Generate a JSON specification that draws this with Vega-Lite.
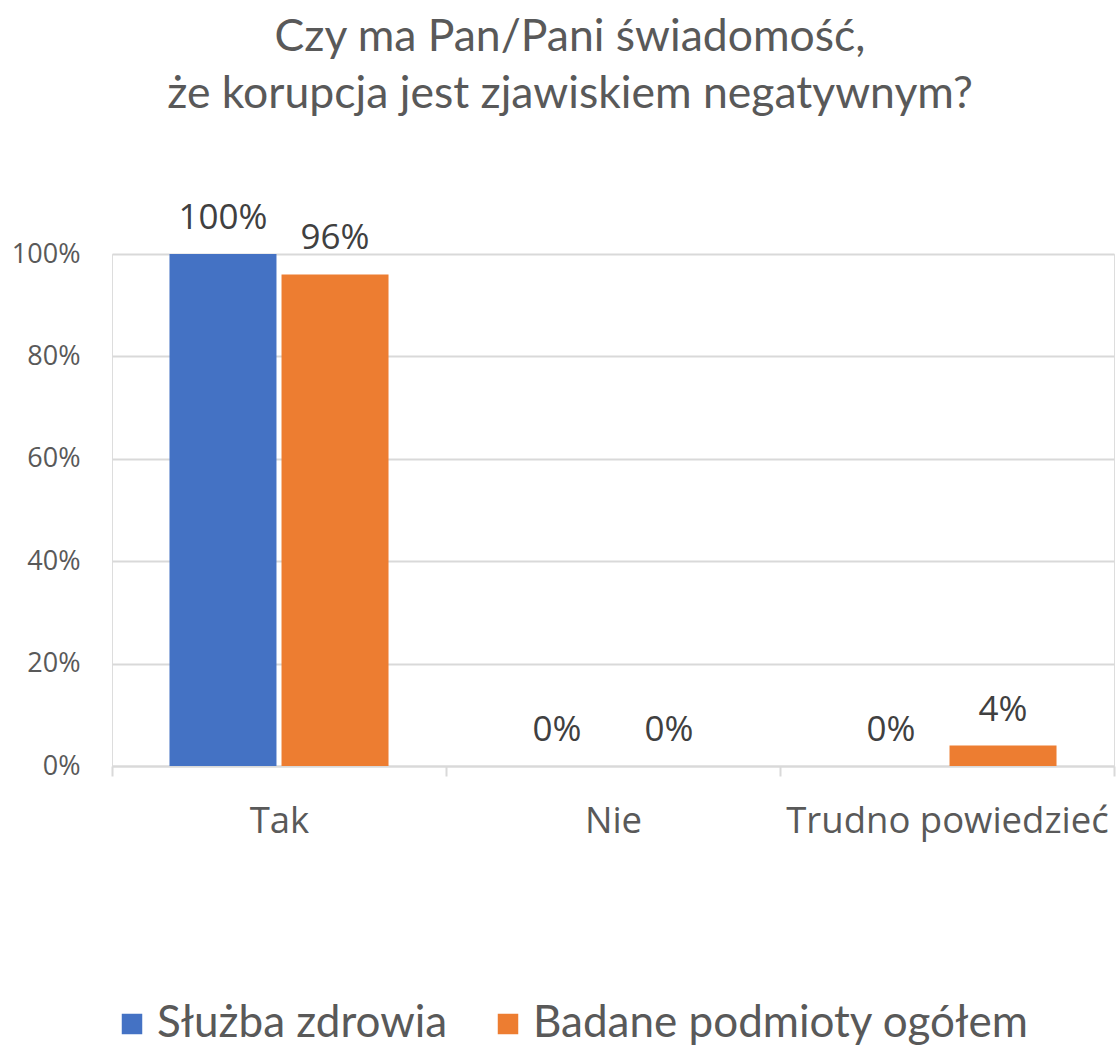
{
  "$schema": "https://vega.github.io/schema/vega-lite/v6.json",
  "autosize": {"type": "none"},
  "padding": {"left": 112, "top": 254, "right": 3, "bottom": 279},
  "width": 1002,
  "height": 512,
  "background": "white",
  "title": {
    "text": ["Czy ma Pan/Pani świadomość,", "że korupcja jest zjawiskiem negatywnym?"],
    "font": "Lato",
    "fontSize": 44.5,
    "fontWeight": "normal",
    "color": "#595959",
    "lineHeight": 57,
    "anchor": "middle",
    "dx": -43,
    "offset": 84
  },
  "data": {
    "values": [
      {"kategoria": "Tak", "seria": "Służba zdrowia", "wartosc": 1.0},
      {"kategoria": "Tak", "seria": "Badane podmioty ogółem", "wartosc": 0.96},
      {"kategoria": "Nie", "seria": "Służba zdrowia", "wartosc": 0.0},
      {"kategoria": "Nie", "seria": "Badane podmioty ogółem", "wartosc": 0.0},
      {"kategoria": "Trudno powiedzieć", "seria": "Służba zdrowia", "wartosc": 0.0},
      {"kategoria": "Trudno powiedzieć", "seria": "Badane podmioty ogółem", "wartosc": 0.04}
    ]
  },
  "encoding": {
    "x": {
      "field": "kategoria",
      "type": "nominal",
      "sort": ["Tak", "Nie", "Trudno powiedzieć"],
      "scale": {"paddingInner": 0, "paddingOuter": 0},
      "axis": {
        "title": null,
        "labelAngle": 0,
        "labelFont": "Open Sans",
        "labelFontSize": 36.5,
        "labelColor": "#595959",
        "labelPadding": 27,
        "labelLimit": 600,
        "labelOverlap": false,
        "tickBand": "extent",
        "tickSize": 10,
        "tickColor": "#d9d9d9",
        "tickWidth": 2,
        "domainColor": "#d9d9d9",
        "domainWidth": 2,
        "grid": false
      }
    },
    "xOffset": {
      "field": "seria",
      "type": "nominal",
      "sort": ["Służba zdrowia", "Badane podmioty ogółem"],
      "scale": {"paddingInner": 0.045, "paddingOuter": 0.513}
    },
    "y": {
      "field": "wartosc",
      "type": "quantitative",
      "scale": {"domain": [0, 1]},
      "axis": {
        "title": null,
        "values": [0, 0.2, 0.4, 0.6, 0.8, 1.0],
        "format": ".0%",
        "labelFont": "Open Sans",
        "labelFontSize": 27,
        "labelColor": "#595959",
        "labelPadding": 32,
        "domain": false,
        "ticks": false,
        "gridColor": "#d9d9d9",
        "gridWidth": 2
      }
    }
  },
  "layer": [
    {
      "mark": {"type": "bar"},
      "encoding": {
        "color": {
          "field": "seria",
          "type": "nominal",
          "sort": ["Służba zdrowia", "Badane podmioty ogółem"],
          "scale": {"domain": ["Służba zdrowia", "Badane podmioty ogółem"], "range": ["#4472C4", "#ED7D31"]},
          "legend": {
            "title": null,
            "orient": "none",
            "direction": "horizontal",
            "legendX": -2,
            "legendY": 748,
            "symbolType": "square",
            "symbolSize": 420,
            "symbolStrokeWidth": 0,
            "labelFont": "Lato",
            "labelFontSize": 44,
            "labelColor": "#595959",
            "labelOffset": 3,
            "columnPadding": 38,
            "labelLimit": 600
          }
        }
      }
    },
    {
      "mark": {
        "type": "text",
        "baseline": "alphabetic",
        "dy": -25,
        "font": "Open Sans",
        "fontSize": 35,
        "color": "#404040"
      },
      "encoding": {
        "text": {"field": "wartosc", "type": "quantitative", "format": ".0%"}
      }
    }
  ]
}
